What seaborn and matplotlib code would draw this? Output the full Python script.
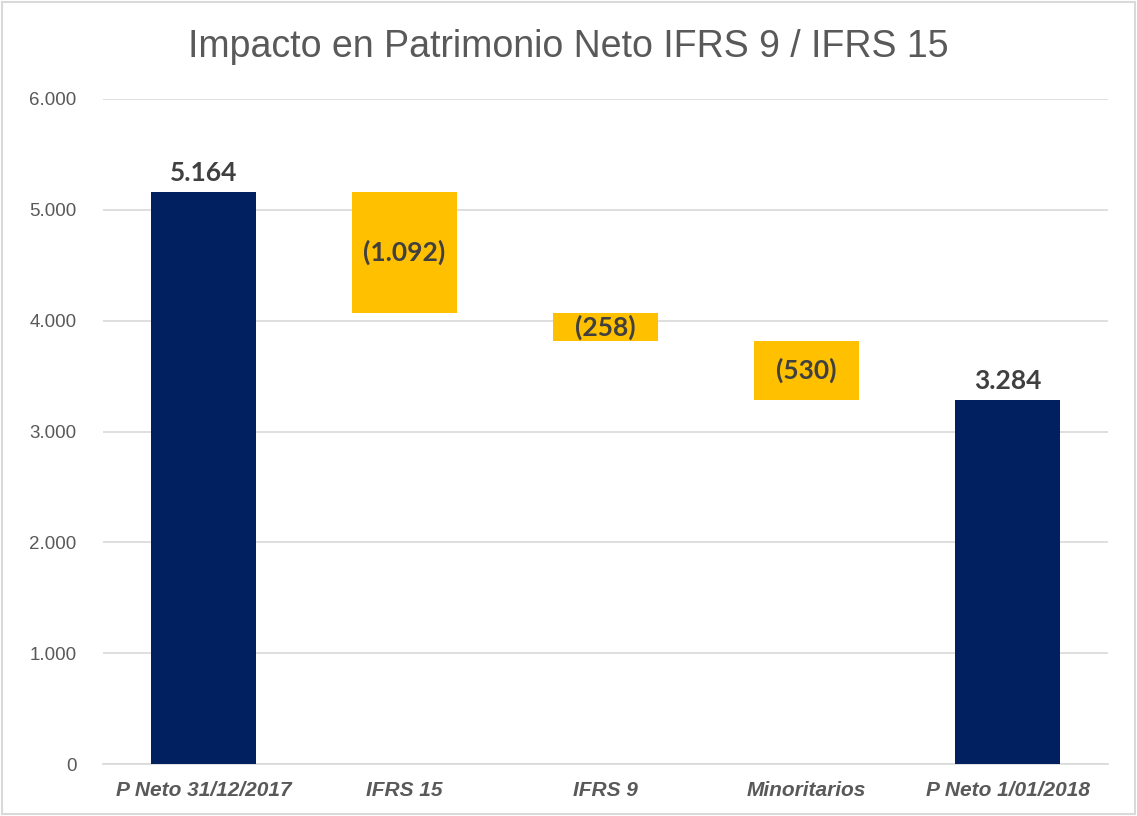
import numpy as np
import pandas as pd
import matplotlib
matplotlib.use("Agg")
import matplotlib.pyplot as plt
from matplotlib.patches import Rectangle
from matplotlib.ticker import FuncFormatter
import seaborn as sns

# Datos (millones)
categorias = ["P Neto 31/12/2017", "IFRS 15", "IFRS 9", "Minoritarios", "P Neto 1/01/2018"]
impactos = [5164, -1092, -258, -530, 3284]
es_total = [True, False, False, False, True]
etiquetas = ["5.164", "(1.092)", "(258)", "(530)", "3.284"]

AZUL = "#002060"
ORO = "#FFC000"
GRIS = "#595959"

# Base y altura de cada barra de la cascada
bases, alturas = [], []
acumulado = 0
for v, total in zip(impactos, es_total):
    if total:
        bases.append(0)
        alturas.append(v)
        acumulado = v
    else:
        acumulado += v
        bases.append(acumulado)
        alturas.append(-v)

df = pd.DataFrame({"categoria": categorias, "altura": alturas, "base": bases,
                   "total": es_total, "etiqueta": etiquetas})
paleta = {c: (AZUL if t else ORO) for c, t in zip(categorias, es_total)}

sns.set_theme(style="white")
plt.rcParams["font.family"] = ["Liberation Sans", "DejaVu Sans"]

fig = plt.figure(figsize=(11.37, 8.16), dpi=100)
ax = fig.add_axes([0.0906, 0.0637, 0.8839, 0.815])

sns.barplot(data=df, x="categoria", y="altura", hue="categoria", palette=paleta,
            order=categorias, hue_order=categorias, width=0.52, saturation=1,
            legend=False, ax=ax, zorder=3, linewidth=0)

# mover cada barra a su base
for patch, b in zip(ax.patches, df["base"]):
    patch.set_y(b)

ax.set_ylim(0, 6000)
ax.set_yticks(np.arange(0, 6001, 1000))
ax.yaxis.set_major_formatter(FuncFormatter(lambda v, p: f"{int(v):,}".replace(",", ".")))
ax.grid(axis="y", color="#D9D9D9", linewidth=1.2, zorder=0)
ax.set_axisbelow(True)
for s in ["top", "right", "left"]:
    ax.spines[s].set_visible(False)
ax.spines["bottom"].set_color("#D9D9D9")
ax.spines["bottom"].set_linewidth(1.2)

ax.set_xlabel("")
ax.set_ylabel("")
ax.tick_params(axis="y", length=0, pad=19, labelsize=13.5, labelcolor=GRIS)
ax.tick_params(axis="x", length=0, pad=12, labelsize=15, labelcolor=GRIS)
for lbl in ax.get_xticklabels():
    lbl.set_fontweight("bold")
    lbl.set_fontstyle("italic")

# etiquetas de datos
for i, row in df.iterrows():
    if row["total"]:
        y = row["base"] + row["altura"] + 60
        va = "bottom"
    else:
        y = row["base"] + row["altura"] / 2
        va = "center"
    ax.text(i, y, row["etiqueta"], ha="center", va=va, fontsize=19,
            fontweight="bold", color="#404040", family=["Lato", "DejaVu Sans"], zorder=4)

fig.text(0.5, 0.942, "Impacto en Patrimonio Neto IFRS 9 / IFRS 15", ha="center",
         va="center", fontsize=27, color=GRIS)

fig.patches.append(Rectangle((0.002, 0.002), 0.996, 0.996, transform=fig.transFigure,
                             fill=False, edgecolor="#D9D9D9", linewidth=1.5))

fig.savefig("out.png", dpi=100, facecolor="white")
